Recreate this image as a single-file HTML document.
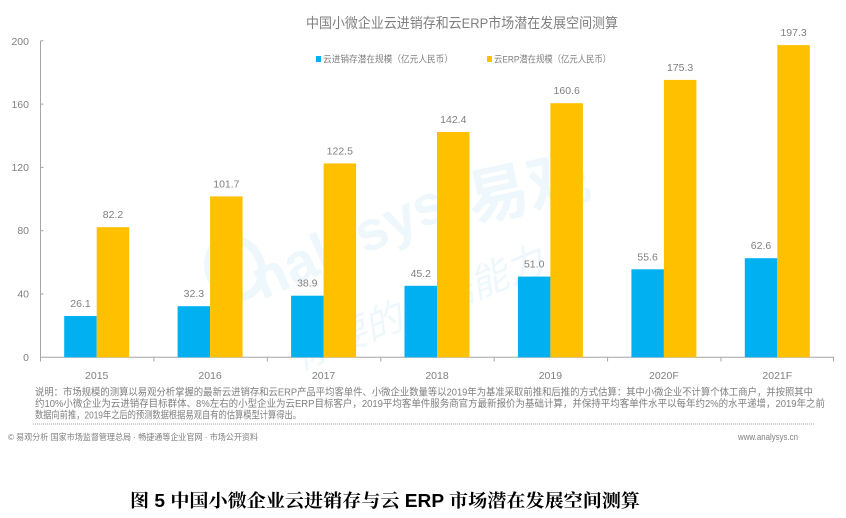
<!DOCTYPE html>
<html><head><meta charset="utf-8"><style>
html,body{margin:0;padding:0;background:#fff;}
svg{display:block;}
</style></head><body>
<svg width="846" height="518" viewBox="0 0 846 518" xmlns="http://www.w3.org/2000/svg" font-family="'Liberation Sans','Noto Sans CJK SC',sans-serif">
<rect width="846" height="518" fill="#fff"/>
<!-- watermark -->
<g fill="#eef7fc">
  <text x="0" y="0" font-size="56" font-weight="bold" transform="translate(262,300) rotate(-24)">nalysys</text>
  <text x="0" y="0" font-size="62" font-weight="bold" transform="translate(472,222) rotate(-12)">易观</text>
  <text x="0" y="0" font-size="38" font-style="italic" transform="translate(300,370) rotate(-22)">你要的数据能力</text>
  <ellipse cx="235" cy="268" rx="26" ry="30" fill="none" stroke="#eef7fc" stroke-width="8" transform="rotate(-30 235 268)"/>
</g>
<!-- title -->
<text x="306" y="28" font-size="14" fill="#7f7f7f" textLength="312" lengthAdjust="spacingAndGlyphs">中国小微企业云进销存和云ERP市场潜在发展空间测算</text>
<!-- legend -->
<rect x="316" y="56" width="5" height="6" fill="#00b0f0"/>
<text x="323" y="62.5" font-size="9.5" fill="#808080" textLength="130" lengthAdjust="spacingAndGlyphs">云进销存潜在规模（亿元人民币）</text>
<rect x="487" y="56" width="5" height="6" fill="#ffc000"/>
<text x="494" y="62.5" font-size="9.5" fill="#808080" textLength="117" lengthAdjust="spacingAndGlyphs">云ERP潜在规模（亿元人民币）</text>
<!-- y axis -->
<g stroke="#a6a6a6" stroke-width="1">
  <line x1="40.5" y1="40.8" x2="40.5" y2="357.3"/>
  <line x1="40.5" y1="40.8" x2="43.5" y2="40.8"/>
  <line x1="40.5" y1="104.1" x2="43.5" y2="104.1"/>
  <line x1="40.5" y1="167.4" x2="43.5" y2="167.4"/>
  <line x1="40.5" y1="230.7" x2="43.5" y2="230.7"/>
  <line x1="40.5" y1="294.0" x2="43.5" y2="294.0"/>
  <line x1="40" y1="357.3" x2="834" y2="357.3"/>
  <line x1="40.5" y1="357.3" x2="40.5" y2="361.5"/>
  <line x1="153.9" y1="357.3" x2="153.9" y2="361.5"/>
  <line x1="267.3" y1="357.3" x2="267.3" y2="361.5"/>
  <line x1="380.8" y1="357.3" x2="380.8" y2="361.5"/>
  <line x1="494.2" y1="357.3" x2="494.2" y2="361.5"/>
  <line x1="607.6" y1="357.3" x2="607.6" y2="361.5"/>
  <line x1="721.0" y1="357.3" x2="721.0" y2="361.5"/>
  <line x1="833.5" y1="357.3" x2="833.5" y2="361.5"/>
</g>
<g font-size="10.5" fill="#808080" text-anchor="end">
  <text x="29" y="45">200</text>
  <text x="29" y="108">160</text>
  <text x="29" y="171">120</text>
  <text x="29" y="234">80</text>
  <text x="29" y="297.5">40</text>
  <text x="29" y="361">0</text>
</g>
<!-- bars -->
<g fill="#00b0f0">
  <rect x="64.2" y="316.0" width="32.5" height="41.3"/>
  <rect x="177.6" y="306.2" width="32.5" height="51.1"/>
  <rect x="291.1" y="295.7" width="32.5" height="61.6"/>
  <rect x="404.5" y="285.8" width="32.5" height="71.5"/>
  <rect x="517.9" y="276.6" width="32.5" height="80.7"/>
  <rect x="631.4" y="269.3" width="32.5" height="88.0"/>
  <rect x="744.8" y="258.2" width="32.5" height="99.1"/>
</g>
<g fill="#ffc000">
  <rect x="96.7" y="227.2" width="32.5" height="130.1"/>
  <rect x="210.1" y="196.4" width="32.5" height="160.9"/>
  <rect x="323.6" y="163.4" width="32.5" height="193.9"/>
  <rect x="437.0" y="132.0" width="32.5" height="225.3"/>
  <rect x="550.4" y="103.2" width="32.5" height="254.1"/>
  <rect x="663.9" y="79.9" width="32.5" height="277.4"/>
  <rect x="777.3" y="45.1" width="32.5" height="312.2"/>
</g>
<!-- value labels -->
<g font-size="10.5" fill="#7f7f7f" text-anchor="middle">
  <text x="80.5" y="307">26.1</text>
  <text x="193.9" y="297.2">32.3</text>
  <text x="307.3" y="286.7">38.9</text>
  <text x="420.8" y="276.8">45.2</text>
  <text x="534.2" y="267.6">51.0</text>
  <text x="647.6" y="260.3">55.6</text>
  <text x="761.0" y="249.2">62.6</text>
  <text x="113.0" y="218.2">82.2</text>
  <text x="226.4" y="187.4">101.7</text>
  <text x="339.8" y="154.4">122.5</text>
  <text x="453.3" y="123.0">142.4</text>
  <text x="566.7" y="94.2">160.6</text>
  <text x="680.1" y="70.9">175.3</text>
  <text x="793.6" y="36.1">197.3</text>
</g>
<!-- x labels -->
<g font-size="10.5" fill="#808080" text-anchor="middle">
  <text x="96.7" y="379">2015</text>
  <text x="210.1" y="379">2016</text>
  <text x="323.6" y="379">2017</text>
  <text x="437.0" y="379">2018</text>
  <text x="550.4" y="379">2019</text>
  <text x="663.9" y="379">2020F</text>
  <text x="777.3" y="379">2021F</text>
</g>
<!-- footnote -->
<g font-size="10" fill="#7f7f7f">
  <text x="35" y="395.5" textLength="778" lengthAdjust="spacingAndGlyphs">说明：市场规模的测算以易观分析掌握的最新云进销存和云ERP产品平均客单件、小微企业数量等以2019年为基准采取前推和后推的方式估算：其中小微企业不计算个体工商户，并按照其中</text>
  <text x="35" y="407" textLength="790" lengthAdjust="spacingAndGlyphs">约10%小微企业为云进销存目标群体、8%左右的小型企业为云ERP目标客户，2019平均客单件服务商官方最新报价为基础计算，并保持平均客单件水平以每年约2%的水平递增，2019年之前</text>
  <text x="35" y="418.5" textLength="266" lengthAdjust="spacingAndGlyphs">数据向前推，2019年之后的预测数据根据易观自有的估算模型计算得出。</text>
</g>
<line x1="33" y1="424" x2="815" y2="424" stroke="#a0a0a0" stroke-width="1" stroke-dasharray="1,1"/>
<text x="8" y="440" font-size="8.5" fill="#808080" textLength="250" lengthAdjust="spacingAndGlyphs">© 易观分析 国家市场监督管理总局 · 畅捷通等企业官网 · 市场公开资料</text>
<text x="738" y="440" font-size="9" fill="#808080" textLength="60" lengthAdjust="spacingAndGlyphs">www.analysys.cn</text>
<!-- caption -->
<text x="130" y="507" font-size="18" font-weight="bold" fill="#000" font-family="'Liberation Sans','Noto Serif CJK SC',serif" textLength="510" lengthAdjust="spacingAndGlyphs">图 5  中国小微企业云进销存与云 ERP 市场潜在发展空间测算</text>
</svg>
</body></html>
